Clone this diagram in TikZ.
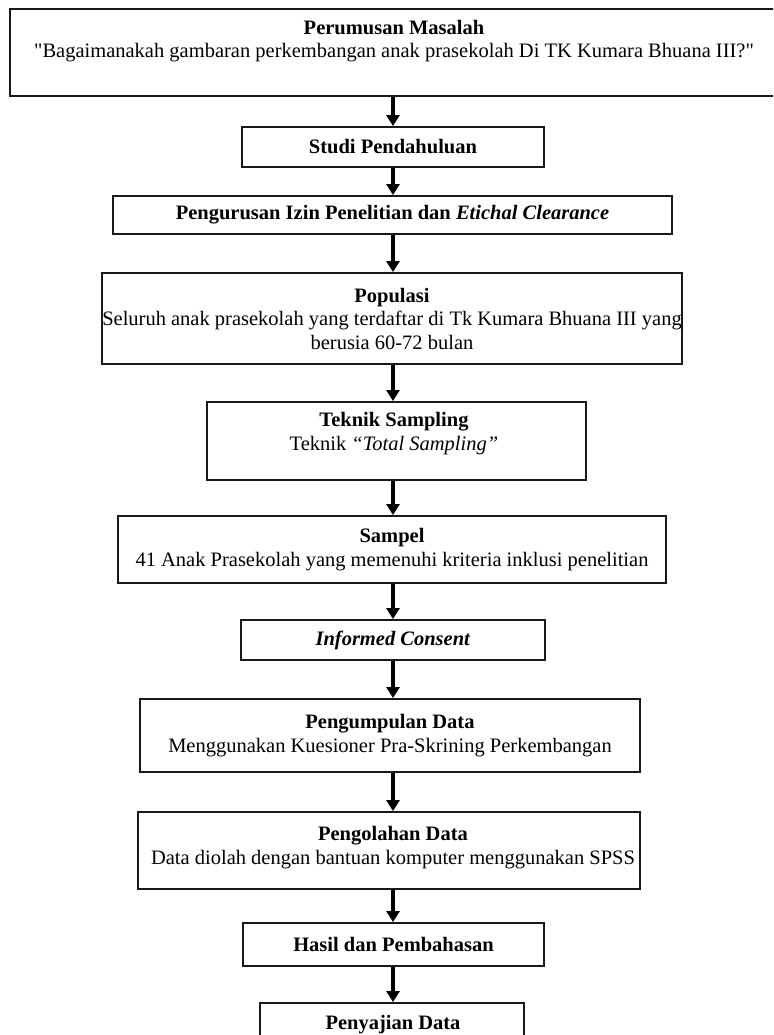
\documentclass[tikz,border=0pt]{standalone}
\usepackage{fontspec}
\setmainfont{Liberation Serif}[Ligatures=TeXOff]
\usetikzlibrary{arrows.meta}
\begin{document}
\begin{tikzpicture}[x=1pt,y=-1pt,
  txt/.style={font=\fontsize{20.5}{23.5}\selectfont},
  box/.style={draw=black!90, line width=1.9pt, rectangle, inner sep=0pt, txt, align=center},
  lbl/.style={inner sep=0pt, txt, align=center},
  arr/.style={line width=3.4pt, -{Triangle[width=13pt,length=11pt]}}]
\useasboundingbox (0,0) rectangle (773,1035);
\clip (0,0) rectangle (773,1035);
\coordinate (ax) at (393,0);
% boxes
\node[box, minimum width=780, minimum height=87] (b1) at (400,52.5) {};
\node[lbl] (t1) at (394,41) {\textbf{Perumusan Masalah}\\"Bagaimanakah gambaran perkembangan anak prasekolah Di TK Kumara Bhuana III?"};
\node[box, minimum width=302, minimum height=40] (b2) at (393,147) {\textbf{Studi Pendahuluan}};
\node[box, minimum width=559, minimum height=38] (b3) at (392.5,215) {\textbf{Pengurusan Izin Penelitian dan \textit{Etichal Clearance}}};
\node[box, minimum width=548, minimum height=91] (b4) at (392,318.5) {\textbf{Populasi}\\Seluruh anak prasekolah yang terdaftar di Tk Kumara Bhuana III yang\\berusia 60-72 bulan};
\node[box, minimum width=379, minimum height=78] (b5) at (396.5,441) {};
\node[lbl] (t5) at (394,433.5) {\textbf{Teknik Sampling}\\Teknik \textit{“Total Sampling”}};
\node[box, minimum width=548, minimum height=67] (b6) at (392,549.5) {\textbf{Sampel}\\41 Anak Prasekolah yang memenuhi kriteria inklusi penelitian};
\node[box, minimum width=304, minimum height=40] (b7) at (393,640) {\textbf{\textit{Informed Consent}}};
\node[box, minimum width=500, minimum height=73] (b8) at (390,735.5) {\textbf{Pengumpulan Data}\\Menggunakan Kuesioner Pra-Skrining Perkembangan};
\node[box, minimum width=502, minimum height=77] (b9) at (389,850.5) {};
\node[lbl] (t9) at (393,847.5) {\textbf{Pengolahan Data}\\Data diolah dengan bantuan komputer menggunakan SPSS};
\node[box, minimum width=301, minimum height=43] (b10) at (393.5,944.5) {\textbf{Hasil dan Pembahasan}};
\node[box, minimum width=264, minimum height=80] (b11) at (392,1043) {};
\node[lbl] (t11) at (393,1025) {\textbf{Penyajian Data}};
% arrows
\foreach \a/\b in {b1/b2,b2/b3,b3/b4,b4/b5,b5/b6,b6/b7,b7/b8,b8/b9,b9/b10,b10/b11}
  \draw[arr] (ax |- \a.south) -- (ax |- \b.north);
\end{tikzpicture}
\end{document}
